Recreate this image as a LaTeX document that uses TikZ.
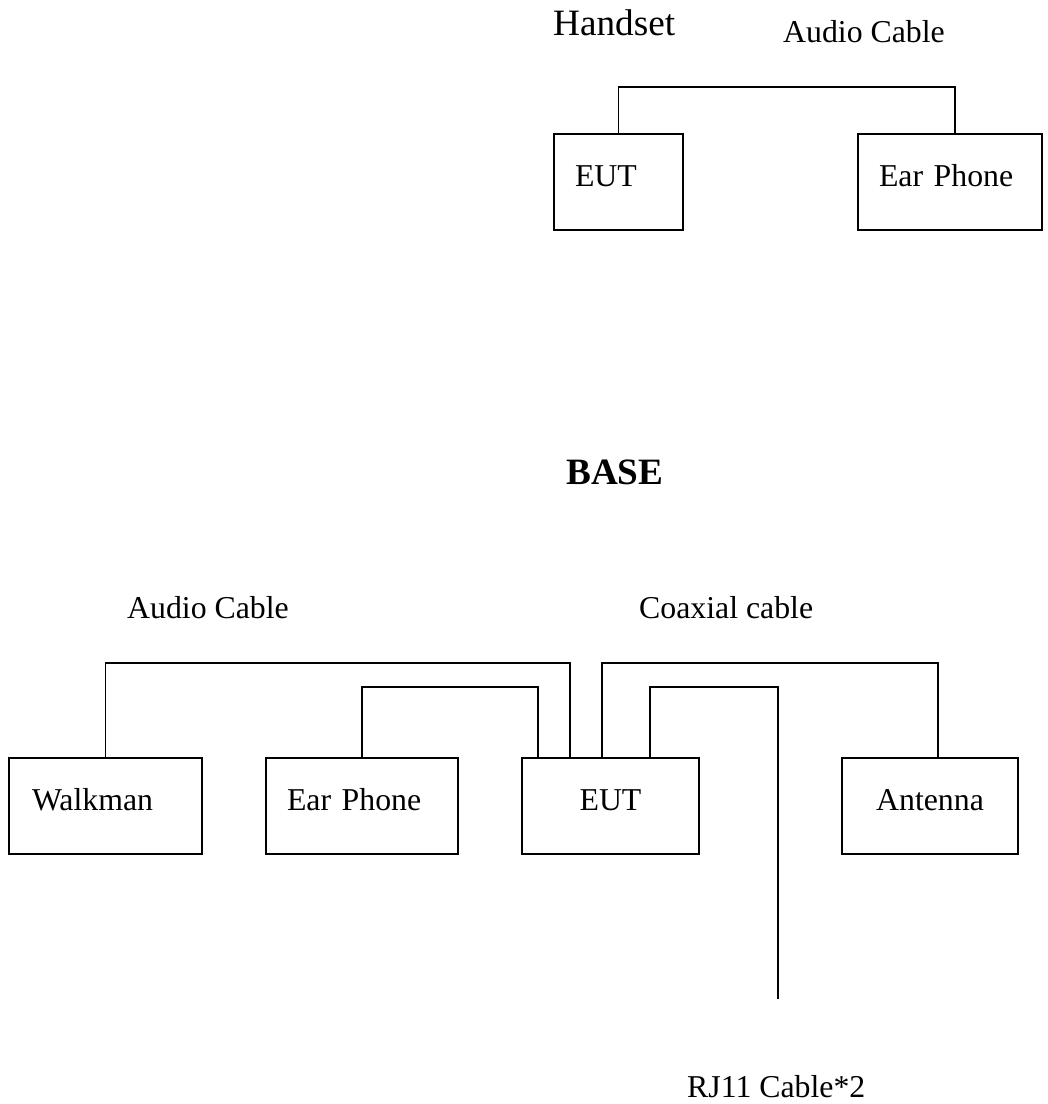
\documentclass[tikz,border=0pt]{standalone}
\usepackage{fontspec}
\setmainfont{Liberation Serif}
\usetikzlibrary{calc}
\begin{document}
\begin{tikzpicture}[x=1pt,y=-1pt,
  txt/.style={anchor=base west, inner sep=0pt, font=\fontsize{31.8}{38}\selectfont},
  bigtxt/.style={anchor=base west, inner sep=0pt, font=\fontsize{37.2}{44}\selectfont},
  box/.style={draw, rectangle, line width=1.8pt, outer sep=0pt, inner ysep=0pt,
    text height=20pt, text depth=12pt, minimum height=96pt, anchor=north west,
    font=\fontsize{31.8}{38}\selectfont},
  lbox/.style={box, align=left, inner xsep=#1},
  cbox/.style={box, align=center, inner xsep=0pt},
  wire/.style={line width=1.8pt}]
\useasboundingbox (0,0) rectangle (1048,1104);
% ---- Handset ----
\node[bigtxt] (handset) at (553,35) {Handset};
\node[txt] (acTop) at (783,42) {Audio Cable};
\node[lbox=21pt, text width=87pt] (eutT) at (554,134) {EUT};
\node[lbox=21pt, text width=142pt] (epT) at (858,134) {Ear Phone};
\coordinate (epTin) at ($(epT.north)+(5,0)$);
\coordinate (hT) at (0,87);
\draw[wire] (eutT.north) |- (epTin |- hT) -- (epTin);
% ---- Base ----
\node[bigtxt, font=\fontsize{37.2}{44}\selectfont\bfseries] (base) at (566,484) {BASE};
\node[txt] (acB) at (127,618) {Audio Cable};
\node[txt] (coax) at (639,618) {Coaxial cable};
\node[lbox=23pt, text width=147pt] (walk) at (9,758) {Walkman};
\node[lbox=21pt, text width=150pt] (epB) at (266,758) {Ear Phone};
\node[cbox, minimum width=177pt] (eutB) at (522,758) {EUT};
\node[cbox, minimum width=176pt] (ant) at (842,758) {Antenna};
\coordinate (hA) at (0,663);
\coordinate (hB) at (0,687);
\coordinate (e1) at ($(eutB.north west)+(16,0)$);
\coordinate (e2) at ($(eutB.north west)+(48,0)$);
\coordinate (e3) at ($(eutB.north west)+(80,0)$);
\coordinate (e4) at ($(eutB.north west)+(128,0)$);
\coordinate (antin) at ($(ant.north)+(8,0)$);
\coordinate (rjend) at (778,999);
\draw[wire] (walk.north) |- (e2 |- hA) -- (e2);
\draw[wire] (epB.north) |- (e1 |- hB) -- (e1);
\draw[wire] (e3) |- (antin |- hA) -- (antin);
\draw[wire] (e4) |- (rjend |- hB) -- (rjend);
\node[txt] (rj) at (687,1097) {RJ11 Cable*2};
\end{tikzpicture}
\end{document}
